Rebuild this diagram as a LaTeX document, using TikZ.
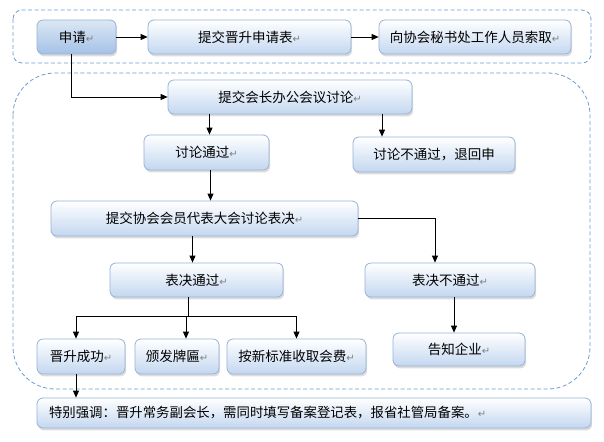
\documentclass[tikz,border=0pt]{standalone}
\usepackage{fontspec}
\setmainfont{Noto Sans CJK SC}
\newfontfamily\symfont{DejaVu Sans}
\usetikzlibrary{arrows.meta,shadows}
\definecolor{boxline}{HTML}{95B3D7}
\definecolor{boxlow}{HTML}{C3D7F0}
\definecolor{keytop}{HTML}{DCE7F4}
\definecolor{keylow}{HTML}{A4C1E6}
\definecolor{framecol}{HTML}{6A9BD3}
\newcommand{\pmark}{{\symfont\fontsize{10}{10}\selectfont\color{gray}↵}}

\begin{document}
\begin{tikzpicture}[x=1pt, y=-1pt,
    box/.style={draw=boxline, line width=0.8pt, rounded corners=6pt,
                top color=white, bottom color=boxlow, inner sep=0pt,
                minimum height=34pt, font=\fontsize{13.5}{15}\selectfont,
                drop shadow={shadow xshift=1.2pt, shadow yshift=-2.4pt, fill=gray!55}},
    keybox/.style={box, top color=keytop, bottom color=keylow},
    framebox/.style={draw=framecol, line width=0.8pt, dash pattern=on 4pt off 2.5pt},
    arr/.style={-{Triangle[length=7pt, width=6pt]}, line width=0.8pt}
  ]
  \useasboundingbox (0,0) rectangle (604,441);

  % Frames
  \draw[framebox, rounded corners=9pt] (13,10) rectangle (591,63);
  \draw[framebox, rounded corners=42pt] (13,73) rectangle (590,389);

  % Top row
  \node[keybox, minimum width=79pt] (sq) at (76.5,37) {申请\pmark};
  \node[box, minimum width=203pt] (tj) at (249.5,37) {提交晋升申请表\pmark};
  \node[box, minimum width=192pt] (xs) at (475,37) {向协会秘书处工作人员索取\pmark};

  % Review
  \node[box, minimum width=244pt] (hz) at (290,97) {提交会长办公会议讨论\pmark};
  \node[box, minimum width=125pt, minimum height=35pt] (tg) at (206.5,152.5) {讨论通过\pmark};
  \node[box, minimum width=162pt, minimum height=35pt] (btg) at (434,154.5) {讨论不通过，退回申};
  \node[box, minimum width=307pt, minimum height=35pt] (dh) at (204.5,218.5) {提交协会会员代表大会讨论表决\pmark};
  \node[box, minimum width=173pt] (bj) at (196.5,280) {表决通过\pmark};
  \node[box, minimum width=170pt] (bjb) at (450,280) {表决不通过\pmark};

  % Results
  \node[box, minimum width=88pt, minimum height=35pt] (cg) at (81,356.5) {晋升成功\pmark};
  \node[box, minimum width=84pt, minimum height=35pt] (pb) at (177,356.5) {颁发牌匾\pmark};
  \node[box, minimum width=139pt, minimum height=35pt] (sf) at (296.5,356.5) {按新标准收取会费\pmark};
  \node[box, minimum width=132pt, minimum height=33pt] (gz) at (459,349.5) {告知企业\pmark};

  \node[box, minimum width=554pt, minimum height=30pt, text width=530pt, align=left,
        font=\fontsize{13.4}{15}\selectfont] (note) at (314,413)
    {特别强调：晋升常务副会长，需同时填写备案登记表，报省社管局备案。\pmark};

  % Arrows
  \draw[arr] (sq) -- (tj);
  \draw[arr] (tj) -- (xs);
  \draw[arr] ([xshift=-5pt]sq.south) |- (hz.west);
  \draw[arr] ([xshift=3pt]tg.north |- hz.south) -- ([xshift=3pt]tg.north);
  \draw[arr] ([xshift=92pt]hz.south) -- ([xshift=92pt]hz.south |- btg.north);
  \draw[arr] ([xshift=4pt]tg.south) -- ([xshift=4pt]tg.south |- dh.north);
  \draw[arr] ([xshift=-4pt]bj.north |- dh.south) -- ([xshift=-4pt]bj.north);
  \draw[arr] (dh.east) -| ([xshift=-15pt]bjb.north);

  \coordinate (fork) at (188,316);
  \draw[line width=0.8pt] ([xshift=-8.5pt]bj.south) -- (fork);
  \draw[arr] (fork) -| ([xshift=-5pt]cg.north);
  \draw[arr] (fork) -| ([xshift=9pt]pb.north);
  \draw[arr] (fork) -| (sf.north);
  \draw[arr] ([xshift=4pt]bjb.south) -- ([xshift=4pt]bjb.south |- gz.north);
  \draw[arr] ([xshift=-5pt]cg.south) -- ([xshift=-5pt]cg.south |- note.north);
\end{tikzpicture}
\end{document}
